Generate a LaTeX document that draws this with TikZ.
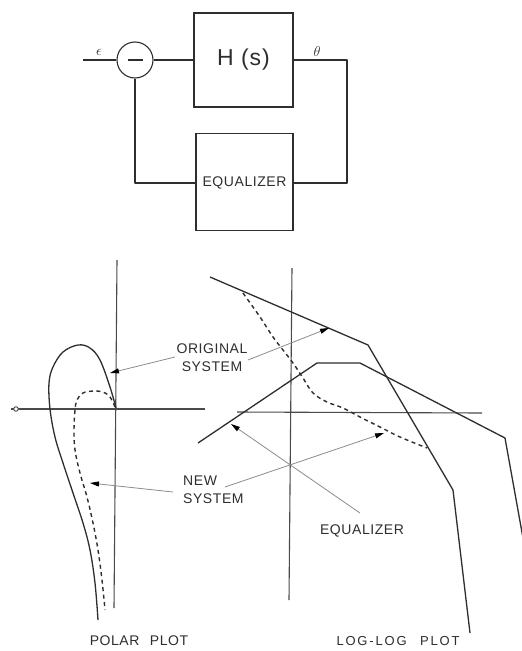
\documentclass[tikz,border=0pt]{standalone}
\usepackage{fontspec}
\newfontfamily\lbl[LetterSpace=4]{Liberation Sans}
\newfontfamily\lblwide[LetterSpace=14]{Liberation Sans}
\usetikzlibrary{arrows.meta}
\definecolor{ink}{HTML}{2E2E2E}
\definecolor{axisc}{HTML}{4A4A4A}
\definecolor{leadc}{HTML}{8C8C8C}
\begin{document}
\begin{tikzpicture}[x=1pt,y=-1pt,
  ln/.style={draw=ink, line width=1.3pt, line join=round},
  axl/.style={draw=axisc, line width=1.1pt},
  dsh/.style={draw=ink, line width=1.4pt, dash pattern=on 4pt off 3.5pt},
  lead/.style={draw=leadc, line width=0.8pt, -{Triangle[length=9pt,width=5pt,color=black]}},
  blk/.style={draw=ink, line width=1.1pt, rectangle, inner sep=0pt},
  txt/.style={text=ink, font=\lbl\fontsize{14}{17}\selectfont, inner sep=1pt},
  sml/.style={text=ink, inner sep=0pt, font=\fontsize{14}{16}\selectfont}]
\useasboundingbox (0,0) rectangle (522,651);
\fill[white] (0,0) rectangle (522,651);

% ---------------- block diagram ----------------
\node[blk, minimum width=99pt, minimum height=94pt, text=ink,
      font=\lbl\fontsize{23}{26}\selectfont] (H) at (243.5,60) {H (s)};
\node[blk, minimum width=97pt, minimum height=97pt] (eqbox) at (244.5,182) {};
\node[txt] (eqtxt) at (244.5,183) {EQUALIZER};
\node[draw=ink, line width=1.1pt, circle, minimum size=36pt, inner sep=0pt] (sum) at (135,60) {};
\draw[ink, line width=1.3pt] ([xshift=-7.5pt]sum.center) -- ([xshift=7.5pt]sum.center);
\coordinate (in) at (83,60);
\coordinate (c1) at (347,60);
\coordinate (c2) at (135,183);
\draw[ln] (in) -- (sum.west);
\draw[ln] (sum.east) -- (H.west);
\draw[ln] (H.east) -- (c1) |- (eqtxt.east -| eqbox.east);
\draw[ln] (eqtxt.west -| eqbox.west) -- (c2) -- (sum.south);
\node[sml] (eps) at (99,52) {$\epsilon$};
\node[sml] (th) at (317,51) {$\theta$};

% ---------------- polar plot ----------------
\coordinate (pa1) at (117,260);
\coordinate (pa2) at (114,608);
\coordinate (pb1) at (11,409);
\coordinate (pb2) at (205,409);
\draw[axl] (pa1) -- (pa2);
\draw[axl] (pb1) -- (pb2);
\node[draw=axisc, fill=white, circle, line width=0.9pt, minimum size=4.5pt, inner sep=0pt] (m1) at (16,409) {};

\draw[ln] plot[smooth, tension=0.6] coordinates {
  (116,408) (110,387) (100,360) (90,348) (78,345) (63,352) (53,367) (49,383)
  (50,409) (55,437) (63,463) (73,493) (83,523) (90,550) (95,583) (98,620)};
\draw[dsh] plot[smooth, tension=0.6] coordinates {
  (115,407) (110,397) (103,392) (93,391) (83,393) (77,400) (75,410) (74,430)
  (75,450) (80,473) (87,497) (93,523) (98,550) (102,580) (105,610)};

% ---------------- log-log plot ----------------
\coordinate (la1) at (292,268);
\coordinate (la2) at (289,600);
\coordinate (lb1) at (237,412);
\coordinate (lb2) at (482,413);
\draw[axl] (la1) -- (la2);
\draw[axl] (lb1) -- (lb2);

\coordinate (o1) at (210,277);
\coordinate (o2) at (368,345);
\coordinate (o3) at (453,490);
\coordinate (o4) at (470,633);
\draw[ln] (o1) -- (o2) -- (o3) -- (o4);

\coordinate (e1) at (198,443);
\coordinate (e2) at (317,363);
\coordinate (e3) at (360,363);
\coordinate (e4) at (505,438);
\coordinate (e5) at (523,538);
\draw[ln] (e1) -- (e2) -- (e3) -- (e4) -- (e5);

\draw[dsh] plot[smooth, tension=0.6] coordinates {
  (243,293) (260,317) (273,337) (283,350) (293,363) (303,378) (313,393)
  (327,402) (343,408) (360,417) (380,427) (400,437) (427,448)};

% ---------------- labels and leaders ----------------
\node[txt, align=center] (orig) at (212,358) {ORIGINAL\\[1pt]SYSTEM};
\node[txt, align=left, anchor=west] (newsys) at (182,490) {NEW\\[1pt]SYSTEM};
\node[txt] (eqlab) at (362,531) {EQUALIZER};
\node[txt] (polar) at (139,641) {POLAR\hspace{6pt} PLOT};
\node[text=ink, font=\lblwide\fontsize{13}{15}\selectfont, inner sep=0.5pt] (loglog) at (398,641) {LOG-LOG\hspace{8pt} PLOT};

\coordinate (tipA) at (110,373);
\coordinate (tipB) at (329,328);
\coordinate (tipC) at (90,483);
\coordinate (tipD) at (384,433);
\coordinate (tipE) at (231,424);
\coordinate (sA) at (175,357);
\coordinate (sB) at (248,360);
\coordinate (sC) at (173,492);
\coordinate (sD) at (225,487);
\coordinate (sE) at (360,513);
\draw[lead] (sA) -- (tipA);
\draw[lead] (sB) -- (tipB);
\draw[lead] (sC) -- (tipC);
\draw[lead] (sD) -- (tipD);
\draw[lead] (sE) -- (tipE);
\end{tikzpicture}
\end{document}
